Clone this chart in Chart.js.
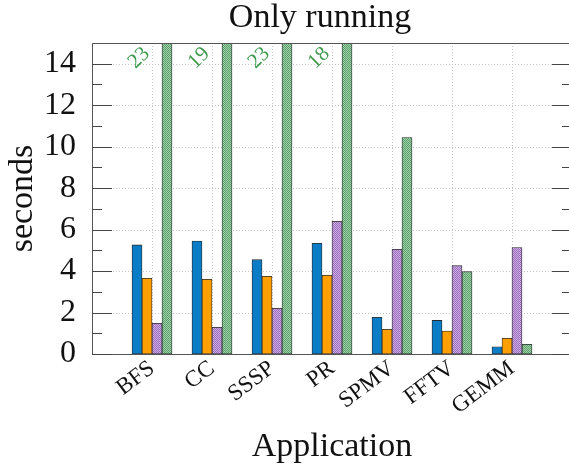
<!DOCTYPE html>
<html><head><meta charset="utf-8">
<script src="https://cdn.jsdelivr.net/npm/chart.js@4/dist/chart.umd.min.js"></script>
<style>
html,body{margin:0;padding:0;overflow:hidden;background:#fff;width:569px;height:470px}
#wrap{width:572px;height:470px}
</style></head>
<body><div id="wrap"><canvas id="c" width="572" height="470"></canvas></div>
<script>
const categories = ['BFS','CC','SSSP','PR','SPMV','FFTV','GEMM'];
const blueValues   = [5.26, 5.45, 4.55, 5.34, 1.77, 1.62, 0.35];
const orangeValues = [3.65, 3.60, 3.75, 3.80, 1.19, 1.11, 0.76];
const purpleValues = [1.48, 1.29, 2.20, 6.40, 5.05, 4.26, 5.13];
const greenValues  = [23, 19, 23, 18, 10.44, 3.97, 0.47];
const yTickValues = [0, 2, 4, 6, 8, 10, 12, 14];
const yMinorTickValues = [1, 3, 5, 7, 9, 11, 13];
const yMax = 15;
const chartTitle = 'Only running';
const xTitle = 'Application';
const yTitle = 'seconds';

const FONT = '"Liberation Serif", serif';
const canvas = document.getElementById('c');
const ctx0 = canvas.getContext('2d');

function makePattern(light, dark) {
  const p = document.createElement('canvas');
  p.width = 2; p.height = 2;
  const g = p.getContext('2d');
  g.fillStyle = light; g.fillRect(0, 0, 2, 2);
  g.fillStyle = dark; g.fillRect(0, 0, 1, 1); g.fillRect(1, 1, 1, 1);
  return ctx0.createPattern(p, 'repeat');
}
const purplePattern = makePattern('#cfaee3', '#9a6cbd');
const greenPattern = makePattern('#a0d3aa', '#5a9f6b');

const toPoints = arr => arr.map((v, i) => ({x: i, y: v}));

const decorPlugin = {
  id: 'decor',
  beforeDatasetsDraw(chart) {
    const {ctx, chartArea: a, scales: {x, y}} = chart;
    ctx.save();
    ctx.strokeStyle = '#c4c4c4';
    ctx.lineWidth = 1;
    ctx.setLineDash([1, 2]);
    yTickValues.forEach(v => {
      if (v === 0) return;
      const py = Math.round(y.getPixelForValue(v)) + 0.5;
      ctx.beginPath(); ctx.moveTo(a.left, py); ctx.lineTo(a.right, py); ctx.stroke();
    });
    categories.forEach((c, i) => {
      const px = Math.round(x.getPixelForValue(i)) + 0.5;
      ctx.beginPath(); ctx.moveTo(px, a.top); ctx.lineTo(px, a.bottom); ctx.stroke();
    });
    ctx.restore();
  },
  afterDatasetsDraw(chart) {
    const {ctx, chartArea: a, scales: {x, y}} = chart;
    ctx.save();
    ctx.strokeStyle = '#555';
    ctx.lineWidth = 1;
    const L = Math.round(a.left) + 0.5, R = Math.round(a.right) - 0.5;
    const T = Math.round(a.top) + 0.5, B = Math.round(a.bottom) + 0.5;
    ctx.beginPath();
    ctx.moveTo(L, T); ctx.lineTo(R, T); ctx.lineTo(R, B); ctx.lineTo(L, B); ctx.closePath();
    ctx.stroke();
    ctx.strokeStyle = '#444';
    const tick = (v, len) => {
      const py = Math.round(y.getPixelForValue(v)) + 0.5;
      ctx.beginPath(); ctx.moveTo(a.left, py); ctx.lineTo(a.left + len, py); ctx.stroke();
      ctx.beginPath(); ctx.moveTo(a.right - len, py); ctx.lineTo(a.right, py); ctx.stroke();
    };
    yTickValues.forEach(v => tick(v, 20));
    yMinorTickValues.forEach(v => tick(v, 10));
    const meta = chart.getDatasetMeta(3);
    greenValues.forEach((v, i) => {
      if (v > yMax) {
        const bar = meta.data[i];
        ctx.save();
        ctx.translate(bar.x - 28, a.top + 15);
        ctx.rotate(-Math.PI / 4);
        ctx.fillStyle = '#3f9a4e';
        ctx.font = '21px ' + FONT;
        ctx.textAlign = 'center';
        ctx.textBaseline = 'middle';
        ctx.fillText(String(v), 0, 0);
        ctx.restore();
      }
    });
    ctx.fillStyle = '#111';
    ctx.font = '34px ' + FONT;
    ctx.textAlign = 'center';
    ctx.textBaseline = 'alphabetic';
    ctx.fillText(chartTitle, (a.left + a.right) / 2 - 12, 27);
    ctx.restore();
  }
};

const barCommon = {borderColor: '#2a2a2a', borderWidth: 0.8, barThickness: 10, borderSkipped: false};

function build() {
  new Chart(canvas, {
    type: 'bar',
    data: {
      datasets: [
        Object.assign({label: 'A', data: toPoints(blueValues), backgroundColor: '#0b7cc6'}, barCommon),
        Object.assign({label: 'B', data: toPoints(orangeValues), backgroundColor: '#ffa000'}, barCommon),
        Object.assign({label: 'C', data: toPoints(purpleValues), backgroundColor: purplePattern}, barCommon),
        Object.assign({label: 'D', data: toPoints(greenValues), backgroundColor: greenPattern}, barCommon)
      ]
    },
    options: {
      responsive: false,
      animation: false,
      layout: {padding: {top: 43, left: 0, right: 0, bottom: 0}},
      plugins: {legend: {display: false}, tooltip: {enabled: false}, title: {display: false}},
      scales: {
        x: {
          type: 'linear', min: -1, max: categories.length, offset: false,
          afterBuildTicks: s => { s.ticks = categories.map((c, i) => ({value: i})); },
          afterFit: s => { s.height = 116; },
          grid: {display: false, drawTicks: false},
          border: {display: false},
          ticks: {
            autoSkip: false, maxRotation: 37, minRotation: 37, padding: 1,
            font: {family: FONT, size: 23}, color: '#111',
            callback: v => categories[v]
          },
          title: {display: true, text: xTitle, font: {family: FONT, size: 34}, color: '#111', padding: {top: 0, bottom: 3}}
        },
        y: {
          type: 'linear', min: 0, max: yMax,
          afterBuildTicks: s => { s.ticks = yTickValues.map(v => ({value: v})); },
          afterFit: s => { s.width = 92; },
          grid: {display: false, drawTicks: false},
          border: {display: false},
          ticks: {font: {family: FONT, size: 32}, color: '#111', padding: 16},
          title: {display: true, text: yTitle, font: {family: FONT, size: 34}, color: '#111', padding: {top: 3, bottom: 0}}
        }
      }
    },
    plugins: [decorPlugin]
  });
}
if (document.fonts && document.fonts.load) {
  Promise.all([document.fonts.load('32px "Liberation Serif"')]).then(build, build);
} else { build(); }
</script>
</body></html>
